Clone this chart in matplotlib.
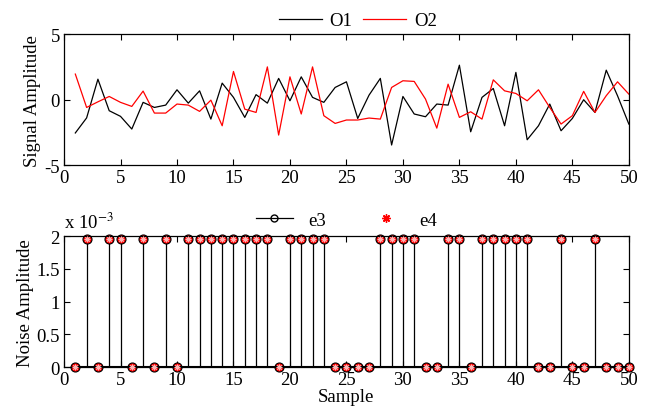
import numpy as np
import matplotlib

matplotlib.use("Agg")
import matplotlib.pyplot as plt
from matplotlib.lines import Line2D
from matplotlib.ticker import FuncFormatter

# top panel: two observed signals
samples = np.arange(1, 51)
o1 = [-2.55, -1.4, 1.56, -0.85, -1.28, -2.25, -0.21, -0.6, -0.42, 0.75,
      -0.27, 0.67, -1.49, 1.26, 0.17, -1.36, 0.38, -0.27, 1.62, -0.09,
      1.74, 0.17, -0.21, 0.93, 1.36, -1.44, 0.34, 1.62, -3.47, 0.24,
      -1.1, -1.31, -0.34, -0.42, 2.63, -2.46, 0.17, 0.85, -2.0, 2.08,
      -3.07, -2.0, -0.34, -2.38, -1.44, -0.01, -0.98, 2.25, 0.29, -1.87]
o2 = [1.95, -0.6, -0.17, 0.24, -0.21, -0.52, 0.65, -1.03, -1.03, -0.34,
      -0.42, -0.9, -0.04, -2.0, 2.15, -0.73, -0.98, 2.5, -2.71, 1.74,
      -1.1, 2.5, -1.23, -1.82, -1.56, -1.56, -1.41, -1.49, 0.93, 1.44,
      1.39, 0.04, -2.18, 1.18, -1.36, -0.93, -1.49, 1.51, 0.67, 0.47,
      -0.09, 0.75, -0.6, -1.87, -1.23, 0.63, -0.98, 0.3, 1.36, 0.42]

# bottom panel: noise amplitudes (same values for e3 and e4)
high = [2, 4, 5, 7, 9, 11, 12, 13, 14, 15, 16, 17, 18, 20, 21, 22, 23,
        28, 29, 30, 31, 34, 35, 37, 38, 39, 40, 41, 44, 47]
noise_level = 1.95e-3
e3 = np.array([noise_level if s in high else 0.0 for s in samples])
e4 = e3.copy()

plt.rcParams["font.family"] = ["Liberation Serif", "DejaVu Serif"]
plt.rcParams["mathtext.fontset"] = "stix"
plt.rcParams["axes.unicode_minus"] = False
FS = 13.5

fig = plt.figure(figsize=(6.56, 4.14), dpi=100)
ax1 = fig.add_axes([0.0976, 0.599, 0.861, 0.316])
ax2 = fig.add_axes([0.0976, 0.111, 0.861, 0.316])

ax1.plot(samples, o1, color="black", lw=0.9, label="O1")
ax1.plot(samples, o2, color="red", lw=0.9, label="O2")
ax1.set_xlim(0, 50)
ax1.set_ylim(-5, 5)
ax1.set_yticks([-5, 0, 5])
ax1.set_xticks(np.arange(0, 51, 5))
ax1.set_ylabel("Signal Amplitude", fontsize=FS, labelpad=2)
ax1.legend(loc="lower center", bbox_to_anchor=(0.52, 0.98), ncol=2, frameon=False,
           fontsize=FS, handlelength=2.3, handletextpad=0.4, columnspacing=0.6,
           borderaxespad=0.0)

markerline, stemlines, baseline = ax2.stem(samples, e3, linefmt="k-", markerfmt="ko", basefmt="k-")
stemlines.set_linewidth(0.9)
markerline.set_markerfacecolor("red")
markerline.set_markeredgecolor("black")
markerline.set_markersize(6.5)
markerline.set_markeredgewidth(0.8)
markerline.set_clip_on(False)
ax2.plot(samples, e4, linestyle="none", marker=(8, 2, 0), color="#ffb4b4",
         markersize=4, markeredgewidth=0.7, zorder=4, clip_on=False)
ax2.set_xlim(0, 50)
ax2.set_ylim(0, 2e-3)
ax2.set_xticks(np.arange(0, 51, 5))
ax2.set_yticks([0, 0.5e-3, 1e-3, 1.5e-3, 2e-3])
ax2.yaxis.set_major_formatter(FuncFormatter(lambda v, p: f"{v * 1e3:g}"))
ax2.set_xlabel("Sample", fontsize=FS, labelpad=0)
ax2.set_ylabel("Noise Amplitude", fontsize=FS, labelpad=2)
ax2.text(0.0, 1.03, r"x 10$^{-3}$", transform=ax2.transAxes, fontsize=FS, va="bottom", ha="left")

h3 = Line2D([], [], color="black", lw=0.9, marker="o", markerfacecolor="none",
            markeredgecolor="black", markersize=5, markevery=[1])
h4 = Line2D([], [], color="red", linestyle="none", marker=(8, 2, 0), markersize=6)
ax2.legend([h3, h4], ["e3", "e4"], loc="lower center", bbox_to_anchor=(0.5, 1.0), ncol=2,
           frameon=False, fontsize=FS, handlelength=2.0, handletextpad=0.8,
           columnspacing=2.2, borderaxespad=0.0)

for ax in (ax1, ax2):
    ax.tick_params(direction="in", top=True, right=True, labelsize=FS, length=4, width=0.8, pad=3)
    for sp in ax.spines.values():
        sp.set_linewidth(0.9)

fig.savefig("out.png", dpi=100)
